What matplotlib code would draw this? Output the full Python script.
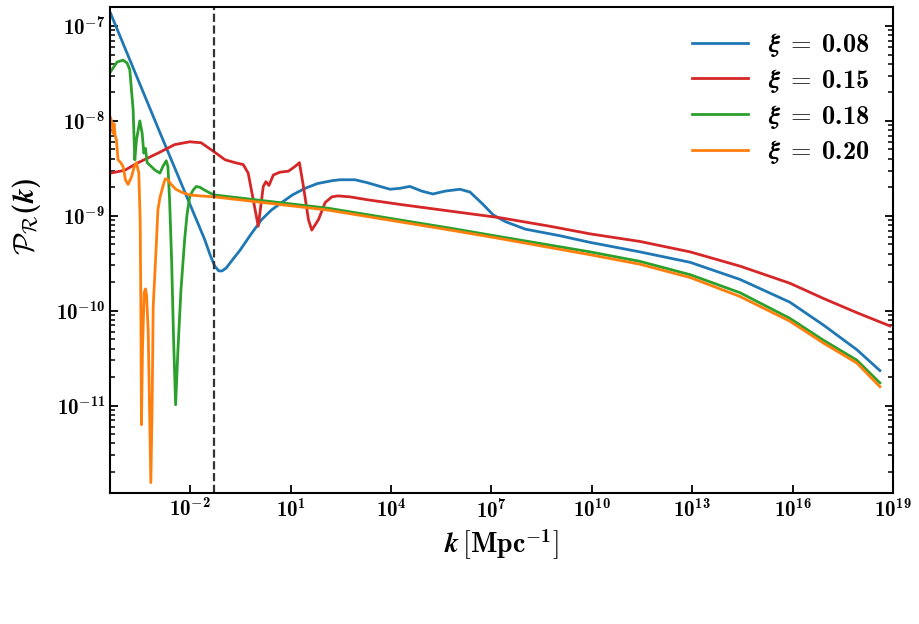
import numpy as np
import matplotlib
matplotlib.use("Agg")
import matplotlib.pyplot as plt
from matplotlib.ticker import FuncFormatter, NullLocator, FixedLocator

plt.rcParams["mathtext.fontset"] = "cm"
plt.rcParams["font.family"] = "serif"
plt.rcParams["font.serif"] = ["cmb10", "DejaVu Serif"]
plt.rcParams["axes.formatter.use_mathtext"] = True

# valores (log10 k, log10 P)
blue_logk = [-4.38, -2.90, -1.57, -1.40, -1.27, -1.15, -1.05, -0.93, -0.71, -0.51, -0.20,
             0.13, 0.42, 0.73, 1.05, 1.43, 1.80, 2.23, 2.47, 2.92, 3.28, 3.67, 3.97, 4.27,
             4.56, 4.92, 5.25, 5.61, 6.06, 6.36, 6.75, 7.05, 7.41, 8.01, 9.05, 9.95,
             11.44, 12.94, 14.43, 15.92, 16.92, 17.92, 18.61]
blue_logP = [-6.87, -8.13, -9.25, -9.42, -9.53, -9.58, -9.58, -9.55, -9.45, -9.36, -9.20,
             -9.04, -8.94, -8.86, -8.78, -8.71, -8.66, -8.63, -8.62, -8.62, -8.65, -8.69,
             -8.72, -8.71, -8.69, -8.74, -8.77, -8.74, -8.72, -8.75, -8.88, -8.99, -9.06,
             -9.14, -9.21, -9.28, -9.38, -9.49, -9.67, -9.91, -10.15, -10.41, -10.63]

red_logk = [-4.38, -3.96, -3.56, -2.97, -2.47, -2.02, -1.68, -1.31, -0.96, -0.66, -0.42,
            -0.27, -0.12, 0.03, 0.18, 0.26, 0.35, 0.48, 0.68, 0.93, 1.13, 1.26, 1.38,
            1.53, 1.63, 1.83, 2.03, 2.23, 2.41, 2.77, 3.28, 4.27, 5.76, 7.26, 8.75,
            9.95, 11.44, 12.94, 14.43, 15.92, 16.92, 17.92, 18.91]
red_logP = [-8.55, -8.52, -8.44, -8.34, -8.25, -8.22, -8.23, -8.32, -8.41, -8.44, -8.46,
            -8.55, -8.83, -9.11, -8.69, -8.64, -8.68, -8.57, -8.54, -8.53, -8.48, -8.44,
            -8.69, -9.04, -9.15, -9.04, -8.86, -8.80, -8.79, -8.80, -8.83, -8.88, -8.95,
            -9.02, -9.11, -9.19, -9.27, -9.38, -9.53, -9.71, -9.87, -10.02, -10.16]

green_logk = [-4.38, -4.19, -4.01, -3.89, -3.81, -3.76, -3.71, -3.66, -3.61, -3.51, -3.44,
              -3.39, -3.34, -3.29, -3.17, -3.05, -2.91, -2.82, -2.72, -2.67, -2.62, -2.56,
              -2.50, -2.44, -2.37, -2.28, -2.17, -2.10, -2.02, -1.92, -1.82, -1.71, -1.57,
              -1.41, -1.29, 2.12, 5.77, 7.26, 9.95, 11.44, 12.94, 14.43, 15.92, 16.92,
              17.92, 18.61]
green_logP = [-7.48, -7.38, -7.36, -7.39, -7.46, -7.67, -7.88, -8.41, -8.20, -8.00, -8.13,
              -8.34, -8.29, -8.44, -8.48, -8.52, -8.55, -8.48, -8.42, -8.48, -8.83, -9.46,
              -10.31, -10.99, -10.41, -9.78, -9.25, -8.99, -8.80, -8.73, -8.69, -8.70, -8.73,
              -8.76, -8.78, -8.92, -9.13, -9.22, -9.38, -9.48, -9.62, -9.81, -10.08, -10.31,
              -10.52, -10.76]

orange_logk = [-4.38, -4.33, -4.31, -4.28, -4.25, -4.21, -4.16, -4.08, -4.01, -3.94, -3.86,
               -3.76, -3.68, -3.61, -3.54, -3.50, -3.48, -3.46, -3.43, -3.38, -3.34, -3.31,
               -3.26, -3.18, -3.14, -3.11, -3.01, -2.97, -2.91, -2.82, -2.75, -2.67, -2.57,
               -2.43, -2.27, -2.02, -1.71, -1.29, 2.12, 5.77, 7.26, 9.95, 11.44, 12.94,
               14.43, 15.92, 16.92, 17.92, 18.61]
orange_logP = [-7.97, -8.04, -8.13, -8.03, -8.15, -8.20, -8.41, -8.44, -8.48, -8.62, -8.67,
               -8.59, -8.49, -8.44, -8.55, -9.04, -9.88, -11.20, -10.41, -9.81, -9.77, -9.83,
               -10.20, -11.81, -10.94, -9.96, -9.25, -8.94, -8.81, -8.69, -8.61, -8.62, -8.67,
               -8.72, -8.75, -8.78, -8.79, -8.80, -8.94, -9.15, -9.24, -9.41, -9.51, -9.65,
               -9.85, -10.11, -10.34, -10.55, -10.80]

k_pivot = 0.05
xi_labels = ["0.08", "0.15", "0.18", "0.20"]
colores = ["#1f77b4", "#d62728", "#2ca02c", "#ff7f0e"]
x_ticks = [1e-2, 1e1, 1e4, 1e7, 1e10, 1e13, 1e16, 1e19]
y_ticks = [1e-11, 1e-10, 1e-9, 1e-8, 1e-7]

series = [
    (blue_logk, blue_logP),
    (red_logk, red_logP),
    (green_logk, green_logP),
    (orange_logk, orange_logP),
]

fig = plt.figure(figsize=(9.2, 6.24), dpi=100)
ax = fig.add_axes([0.1196, 0.2099, 0.851, 0.7789])

for (lk, lp), col, xi in zip(series, colores, xi_labels):
    ax.plot(10 ** np.array(lk), 10 ** np.array(lp), color=col, lw=2,
            label=r"$\boldsymbol{\xi}\;=\;\mathdefault{%s}$" % xi)

ax.axvline(k_pivot, color="#333333", ls="--", lw=1.6)

ax.set_xscale("log")
ax.set_yscale("log")
ax.set_xlim(10 ** -4.40, 1e19)
ax.set_ylim(10 ** -11.92, 10 ** -6.80)


# etiquetas de ticks en negrita (signo menos tomado de la fuente de simbolos)
def etiqueta(v, p):
    e = int(round(np.log10(v)))
    if e < 0:
        return r"$\mathdefault{10}^{\mathbf{-}\mathdefault{%d}}$" % (-e)
    return r"$\mathdefault{10^{%d}}$" % e


fmt = FuncFormatter(etiqueta)
ax.xaxis.set_major_locator(FixedLocator(x_ticks))
ax.yaxis.set_major_locator(FixedLocator(y_ticks))
ax.xaxis.set_major_formatter(fmt)
ax.yaxis.set_major_formatter(fmt)
ax.xaxis.set_minor_locator(NullLocator())

ax.set_xlabel(r"$\boldsymbol{k}\,[\mathdefault{Mpc}^{\mathbf{-}\mathdefault{1}}]$", fontsize=20)
ax.set_ylabel(r"$\mathcal{P}_{\mathcal{R}}\mathdefault{(}\boldsymbol{k}\mathdefault{)}$", fontsize=21)
ax.yaxis.set_label_coords(-0.085, 0.57)

ax.tick_params(which="both", direction="in", right=True, top=False, labelsize=15)
ax.tick_params(which="major", length=6, width=1.3)
ax.tick_params(which="minor", length=3.5, width=1.1)
for s in ax.spines.values():
    s.set_linewidth(1.5)

ax.legend(loc="upper right", frameon=False, fontsize=19, handlelength=2.1,
          handletextpad=0.75, labelspacing=0.3)

plt.savefig("out.png", dpi=100)
plt.close()
